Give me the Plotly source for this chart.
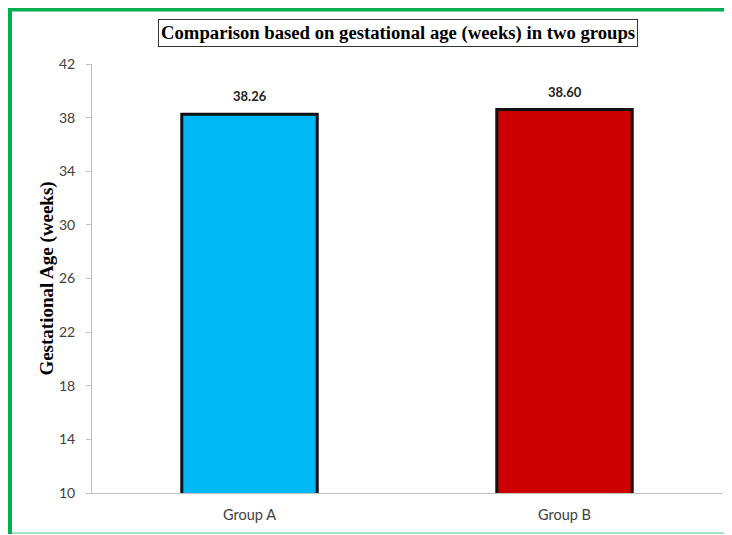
import plotly.graph_objects as go

categories = ["Group A", "Group B"]
values = [38.26, 38.60]
colors = ["#00B8F5", "#CC0000"]
y_ticks = [10, 14, 18, 22, 26, 30, 34, 38, 42]

# page body has an 8px margin, so the figure sits at (8, 8) on screen
OFF = 8
W, H = 732 - 2 * OFF, 535 - OFF
L, R, T, B = 92 - OFF, 2, 64 - OFF, 42
pw, ph = W - L - R, H - T - B

def px(x):  # screen x -> paper
    return (x - OFF - L) / pw

def py(y):  # screen y -> paper
    return 1 - (y - OFF - T) / ph

fig = go.Figure()
fig.add_trace(go.Bar(
    x=categories, y=values, base=0,
    marker=dict(color=colors, line=dict(color="#111111", width=3)),
    width=0.43,
))
for c, v in zip(categories, values):
    fig.add_annotation(x=c, y=v, text=f"<b>{v:.2f}</b>", showarrow=False,
                       yanchor="bottom", yshift=8,
                       font=dict(family="Lato, Liberation Sans", size=13, color="#222222"))

fig.update_layout(
    width=W, height=H,
    margin=dict(l=L, r=R, t=T, b=B),
    paper_bgcolor="white", plot_bgcolor="white",
    showlegend=False,
    xaxis=dict(showline=True, linecolor="#BFBFBF", linewidth=1, ticks="",
               ticklabelstandoff=9,
               tickfont=dict(family="Lato, Liberation Sans", size=14.5, color="#404040")),
    yaxis=dict(range=[10, 42], tickvals=y_ticks, showline=True, linecolor="#BFBFBF",
               linewidth=1, ticks="outside", ticklen=5, tickcolor="#BFBFBF",
               ticklabelstandoff=8,
               showgrid=False, zeroline=False,
               tickfont=dict(family="Lato, Liberation Sans", size=14, color="#404040"),
               title=dict(text="<b>Gestational Age (weeks)</b>", standoff=0,
                          font=dict(family="Liberation Serif, Times New Roman", size=19, color="#000000"))),
    shapes=[
        dict(type="line", xref="paper", yref="paper", x0=px(10), x1=px(724), y0=py(9.5), y1=py(9.5),
             line=dict(color="#00B050", width=4), layer="below"),
        dict(type="line", xref="paper", yref="paper", x0=px(10), x1=px(10), y0=py(8), y1=py(534),
             line=dict(color="#00B050", width=4), layer="below"),
        dict(type="line", xref="paper", yref="paper", x0=px(12), x1=px(724), y0=py(533), y1=py(533),
             line=dict(color="#A6E6BE", width=2), layer="below"),
    ],
)
fig.add_annotation(
    xref="paper", yref="paper", x=px(398), y=py(33), xanchor="center", yanchor="middle",
    text="<b>Comparison based on gestational age (weeks) in two groups</b>", showarrow=False,
    font=dict(family="Liberation Serif, Times New Roman", size=18.7, color="#000000"),
    bordercolor="#333333", borderwidth=1, borderpad=2, bgcolor="white")

fig.write_html("out.html")
